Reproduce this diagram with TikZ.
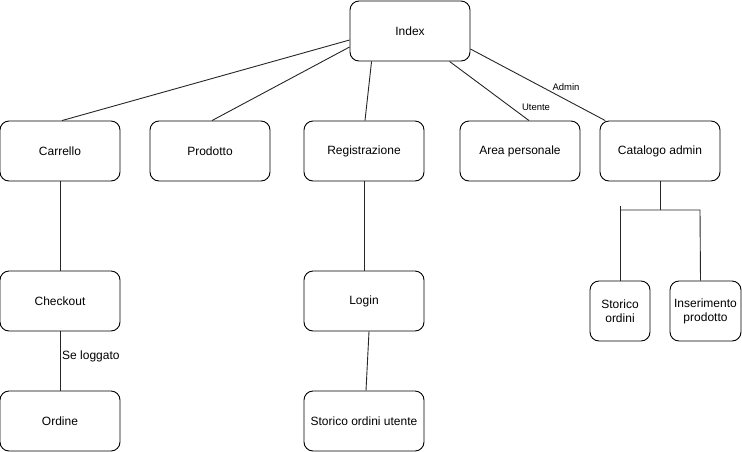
\documentclass[tikz,border=0pt]{standalone}
\usepackage{fontspec}
\setmainfont{Liberation Sans}
\begin{document}
\begin{tikzpicture}[x=1pt,y=-1pt,
  box/.style={draw=black,line width=0.9pt,rounded corners=9pt,fill=white,inner sep=0pt,
    minimum width=120pt,minimum height=60pt,align=center,font=\fontsize{12}{14}\selectfont},
  smallbox/.style={box,minimum width=60pt},
  widebox/.style={box,minimum width=71pt},
  conn/.style={line width=0.9pt,draw=black!85},
  lbl/.style={font=\fontsize{9.5}{11}\selectfont,inner sep=0pt},
  lblb/.style={font=\fontsize{12}{14}\selectfont,inner sep=0pt}]
\path[use as bounding box] (0,0) rectangle (742,451);
\node[box] (index) at (410,31) {Index};
\node[box] (carrello) at (60,151) {Carrello};
\node[box] (prodotto) at (210,151) {Prodotto};
\node[box] (reg) at (364,151) {Registrazione};
\node[box] (area) at (520,151) {Area personale};
\node[box] (catalogo) at (660,151) {Catalogo admin};
\node[box] (checkout) at (60,301) {Checkout};
\node[box] (ordine) at (60,421) {Ordine};
\node[box] (login) at (364,301) {Login};
\node[box] (storicou) at (364,421) {Storico ordini utente};
\node[smallbox] (storico) at (620,311) {Storico\\ordini};
\node[widebox] (ins) at (705.5,311) {Inserimento\\prodotto};
\coordinate (j) at (660,210);
\coordinate (jl) at (620,210);
\coordinate (jr) at (700,210);

\draw[conn] ([yshift=-9pt]index.west) -- ([xshift=2pt]carrello.north);
\draw[conn] ([yshift=-16pt]index.west) -- ([xshift=2pt]prodotto.north);
\draw[conn] ([xshift=22pt]index.south west) -- ([xshift=1pt]reg.north);
\draw[conn] ([xshift=100pt]index.south west) -- ([xshift=9pt]area.north);
\node[lbl] (utente) at (536,107) {Utente};
\draw[conn] ([yshift=-18pt]index.east) -- ([xshift=5.7pt]catalogo.north west);
\node[lbl] (admin) at (566,87) {Admin};
\draw[conn] (carrello.south) -- (checkout.north);
\draw[conn] (checkout.south) -- (ordine.north);
\node[lblb,anchor=west] (seloggato) at (62,356) {Se loggato};
\draw[conn] (reg.south) -- (login.north);
\draw[conn] ([xshift=5pt]login.south) -- ([xshift=2pt]storicou.north);
\draw[conn] (catalogo.south) -- (j);
\draw[conn] (storico.north) -- ++(0,-75);
\draw[conn] (jl) -- (jr) -- ([xshift=-5pt]ins.north);
\end{tikzpicture}
\end{document}
